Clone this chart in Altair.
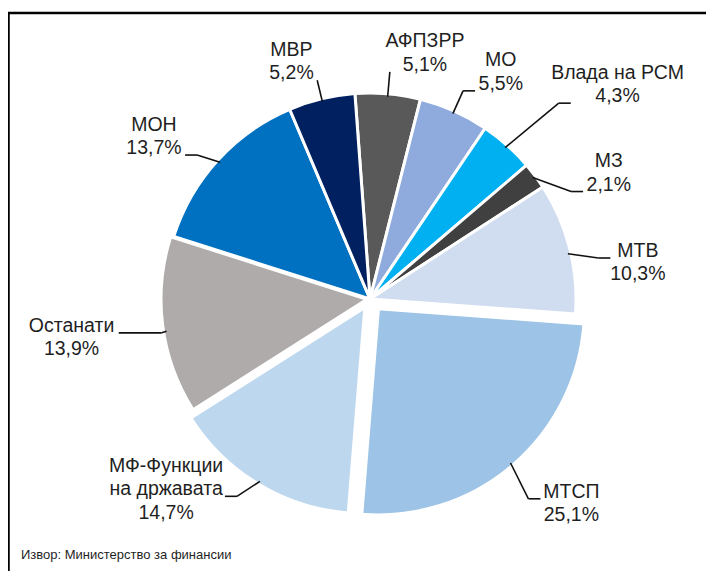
import math
import altair as alt
import pandas as pd

# ---------------- data ----------------
categories = ["АФПЗРР", "МО", "Влада на РСМ", "МЗ", "МТВ", "МТСП",
              "МФ-Функции на државата", "Останати", "МОН", "МВР"]
label_lines = [["АФПЗРР"], ["МО"], ["Влада на РСМ"], ["МЗ"], ["МТВ"], ["МТСП"],
               ["МФ-Функции", "на државата"], ["Останати"], ["МОН"], ["МВР"]]
values = [5.1, 5.5, 4.3, 2.1, 10.3, 25.1, 14.7, 13.9, 13.7, 5.2]
colors = ["#595959", "#8FAADC", "#00B0F0", "#404040", "#D0DCEF",
          "#9DC3E6", "#BDD7EE", "#AFABAB", "#0070C0", "#002060"]
source_text = "Извор: Министерство за финансии"

# ---------------- layout / style ----------------
W, H = 698, 563          # plot area (whole chart, padding 0)
CX, CY = 362, 291        # pie centre in plot pixels
R = 206                  # pie radius in pixels
START = math.radians(-4.2)
FONT = "'Liberation Sans Narrow', 'Arial Narrow', 'Liberation Sans', Arial, sans-serif"
FS, LH, GAP = 19.5, 23.5, 3.5

explode_px = {"МТСП": 13, "МФ-Функции на државата": 10, "Останати": 3}
leader_out = {"Влада на РСМ": 66, "МТСП": 36, "Останати": 2, "МОН": 19, "МВР": 19, "МТВ": 26}
leader_h = {"АФПЗРР": 0, "МВР": 0, "Останати": 43}
edge_turn = {"Останати": -1.7, "МТВ": 1.5}
elbow_turn = {"МЗ": 8.6, "МТВ": 4.2, "Влада на РСМ": 2.2, "МТСП": 2.3,
              "МФ-Функции на државата": 3.0, "МОН": -2.6, "Останати": -1.9}


def text_w(s):
    w = 0.0
    for ch in s:
        if ch in " ,.":
            w += 0.278
        elif ch == "%":
            w += 0.889
        elif ch == "-":
            w += 0.333
        elif ch.isdigit():
            w += 0.556
        elif ch.isupper():
            w += 0.70
        else:
            w += 0.54
    return w * FS


total = sum(values)
rows = []
cum = 0.0
for i, (cat, lines, v) in enumerate(zip(categories, label_lines, values)):
    mid = START + 2 * math.pi * (cum + v / 2) / total
    cum += v
    e = explode_px.get(cat, 0)
    ecx, ecy = e * math.sin(mid) / R, e * math.cos(mid) / R   # exploded centre (pie units, y up)
    a0 = mid + math.radians(edge_turn.get(cat, 0))
    a1 = mid + math.radians(elbow_turn.get(cat, 0))
    L = leader_out.get(cat, 22)
    h = leader_h.get(cat, 12)
    x0, y0 = ecx + (1 - 3 / R) * math.sin(a0), ecy + (1 - 3 / R) * math.cos(a0)
    x1, y1 = ecx + (1 + L / R) * math.sin(a1), ecy + (1 + L / R) * math.cos(a1)
    side = 1 if math.sin(mid) > 0 else -1
    x2, y2 = x1 + side * h / R, y1
    all_lines = lines + [f"{v:.1f}".replace(".", ",") + "%"]
    n = len(all_lines)
    k = n if math.cos(mid) > 0.3 else math.ceil(n / 2)
    w_att = text_w(all_lines[k - 1])
    w_max = max(text_w(t) for t in all_lines)
    tx = x2 + side * (GAP + (w_att + w_max) / 4) / R
    ty = y2 + ((k - 1) * LH + 1) / R
    rows.append(dict(category=cat, value=v, idx=i, cx=ecx, cy=ecy,
                     x0=x0, y0=y0, x1=x1, y1=y1, x2=x2, y2=y2,
                     tx=tx, ty=ty, label="\n".join(all_lines)))
df = pd.DataFrame(rows)

xs = alt.Scale(domain=[-CX / R, (W - CX) / R], nice=False, zero=False)
ys = alt.Scale(domain=[(CY - H) / R, CY / R], nice=False, zero=False)

base = alt.Chart(df)

pie = base.mark_arc(stroke="white", strokeWidth=3).encode(
    theta=alt.Theta("value:Q", stack=True,
                    scale=alt.Scale(domain=[0, total], range=[START, START + 2 * math.pi])),
    order=alt.Order("idx:Q"),
    color=alt.Color("category:N", scale=alt.Scale(domain=categories, range=colors), legend=None),
    x=alt.X("cx:Q", scale=xs, axis=None),
    y=alt.Y("cy:Q", scale=ys, axis=None),
    radius=alt.value(R),
)

lead1 = base.mark_rule(color="#111111", strokeWidth=1.6).encode(
    x=alt.X("x0:Q", scale=xs, axis=None), y=alt.Y("y0:Q", scale=ys, axis=None),
    x2="x1:Q", y2="y1:Q")
lead2 = base.mark_rule(color="#111111", strokeWidth=1.6).encode(
    x=alt.X("x1:Q", scale=xs, axis=None), y=alt.Y("y1:Q", scale=ys, axis=None),
    x2="x2:Q", y2="y2:Q")

labels = base.mark_text(font=FONT, fontSize=FS, lineBreak="\n", lineHeight=LH,
                        align="center", baseline="alphabetic", color="#1f1f1f").encode(
    x=alt.X("tx:Q", scale=xs, axis=None), y=alt.Y("ty:Q", scale=ys, axis=None),
    text="label:N")

one = pd.DataFrame({"t": [source_text]})
source = alt.Chart(one).mark_text(font=FONT, fontSize=13, align="left",
                                  baseline="alphabetic", color="#1f1f1f").encode(
    x=alt.value(13), y=alt.value(551), text="t:N")

frame_top = alt.Chart(one).mark_rule(color="black", strokeWidth=2.5).encode(
    x=alt.value(0), x2=alt.value(W), y=alt.value(5))
frame_left = alt.Chart(one).mark_rule(color="black", strokeWidth=2.5).encode(
    x=alt.value(0.5), y=alt.value(5), y2=alt.value(H))

chart = alt.layer(frame_top, frame_left, pie, lead1, lead2, labels, source).properties(
    width=W, height=H, padding=0,
    autosize=alt.AutoSizeParams(type="none"),
).configure_view(stroke=None)

chart.save("out.html", embed_options={"renderer": "svg", "actions": False})
